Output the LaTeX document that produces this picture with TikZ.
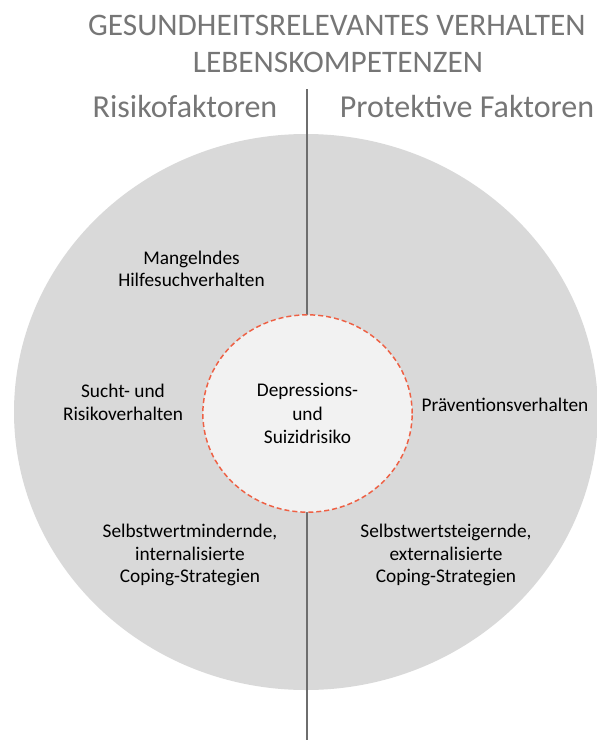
\documentclass[tikz,border=0pt]{standalone}
\usepackage{fontspec}
\setmainfont{Carlito}
\usetikzlibrary{shapes.geometric}

\definecolor{ringgray}{RGB}{217,217,217}
\definecolor{coregray}{RGB}{242,242,242}
\definecolor{coredash}{RGB}{238,96,68}
\definecolor{headgray}{RGB}{118,118,118}
\definecolor{axisgray}{RGB}{110,110,110}

\tikzset{every picture/.style={line width=0.75pt}}
\tikzset{
  heading/.style={text=headgray, font=\fontsize{23.5}{28}\selectfont, inner sep=0.75pt},
  side/.style={text=headgray, font=\fontsize{24}{28}\selectfont, inner sep=0.75pt},
  factor/.style={align=center, font=\fontsize{14.5}{16.8}\selectfont, inner sep=0.75pt},
}

\begin{document}
\begin{tikzpicture}[x=0.75pt,y=0.75pt,yscale=-1,xscale=1]
        \useasboundingbox (0,0) rectangle (597,740);

        %Outer ring
        \fill [ringgray] (306,412) ellipse [x radius=292, y radius=278];
        %Dividing line
        \coordinate (axistop) at (307,89);
        \coordinate (axisbottom) at (307,740);
        \draw [axisgray, line width=0.9pt] (axistop) -- (axisbottom);

        %Core
        \node (core) [ellipse, fill=coregray, draw=coredash, dash pattern={on 3.75pt off 2.25pt}, line width=1.1pt,
              minimum width=157pt, minimum height=148pt, inner sep=0pt, align=center,
              font=\fontsize{14.5}{17.6}\selectfont] at (307.5,413.5) {Depressions-\\und\\Suizidrisiko};

        % Text Node
        \node (title) [heading] at (337,25) {GESUNDHEITSRELEVANTES VERHALTEN};
        % Text Node
        \node (subtitle) [heading] at (338,62) {LEBENSKOMPETENZEN};
        % Text Node
        \node (risk) [side] at (185,107) {Risikofaktoren};
        % Text Node
        \node (protect) [side] at (467,107) {Protektive Faktoren};

        % Text Node
        \node (help) [factor] at (191.5,269) {Mangelndes\\Hilfesuchverhalten};
        % Text Node
        \node (addiction) [factor] at (123,402.5) {Sucht- und\\Risikoverhalten};
        % Text Node
        \node (prevention) [factor] at (505,405) {Präventionsverhalten};
        % Text Node
        \node (lowering) [factor] at (190,555) {Selbstwertmindernde,\\internalisierte\\Coping-Strategien};
        % Text Node
        \node (raising) [factor] at (446,555) {Selbstwertsteigernde,\\externalisierte\\Coping-Strategien};

\end{tikzpicture}
\end{document}
